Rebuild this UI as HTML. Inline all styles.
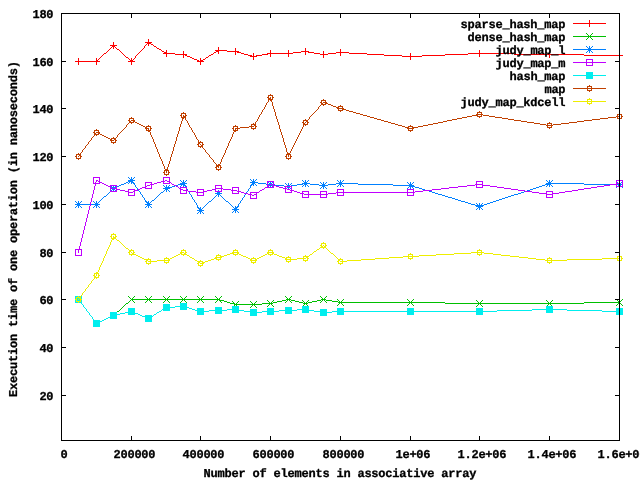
<!DOCTYPE html>
<html lang="en"><head><meta charset="utf-8"><title>Execution time of one operation</title>
<style>
html,body{margin:0;padding:0;background:#fff;}
body{width:640px;height:480px;overflow:hidden;}
svg{display:block;}
.t{font-family:"Liberation Mono","DejaVu Sans Mono",monospace;font-weight:bold;font-size:12px;fill:#000;stroke:#000;stroke-width:.3px;stroke-linejoin:round;text-rendering:geometricPrecision;}
</style></head><body>
<svg width="640" height="480" viewBox="0 0 640 480" shape-rendering="crispEdges">
<rect width="640" height="480" fill="#fff"/>
<g><text class="t" x="565.5" y="28" text-anchor="end" textLength="105" lengthAdjust="spacing">sparse_hash_map</text><path fill="#ff0000" d="M589 20h1v3h-1zM573 23h33v1h-33zM589 24h1v3h-1zM148 39h1v3h-1zM113 42h1v3h-1zM145 42h7v1h-7zM147 43h4v1h-4zM146 44h1v1h-1zM148 44h1v2h-1zM151 44h2v1h-2zM110 45h7v1h-7zM145 45h1v1h-1zM153 45h1v1h-1zM112 46h3v1h-3zM144 46h1v2h-1zM154 46h2v1h-2zM111 47h1v1h-1zM113 47h1v2h-1zM115 47h1v1h-1zM156 47h1v1h-1zM218 47h1v3h-1zM110 48h1v1h-1zM116 48h1v1h-1zM143 48h1v1h-1zM157 48h2v1h-2zM235 48h1v3h-1zM305 48h1v3h-1zM109 49h1v1h-1zM117 49h2v1h-2zM142 49h1v1h-1zM159 49h2v1h-2zM340 49h1v3h-1zM108 50h1v1h-1zM119 50h1v1h-1zM141 50h1v1h-1zM161 50h1v1h-1zM166 50h1v2h-1zM215 50h12v1h-12zM270 50h1v3h-1zM288 50h1v3h-1zM479 50h1v3h-1zM107 51h1v1h-1zM120 51h1v1h-1zM140 51h1v1h-1zM162 51h2v1h-2zM183 51h1v3h-1zM216 51h3v1h-3zM227 51h12v1h-12zM301 51h8v1h-8zM323 51h1v3h-1zM549 51h1v3h-1zM106 52h1v1h-1zM121 52h1v1h-1zM139 52h1v1h-1zM164 52h3v1h-3zM214 52h2v1h-2zM218 52h1v2h-1zM235 52h1v3h-1zM237 52h4v1h-4zM293 52h8v1h-8zM305 52h1v3h-1zM308 52h6v1h-6zM336 52h13v1h-13zM619 52h1v3h-1zM104 53h2v1h-2zM122 53h1v1h-1zM138 53h1v1h-1zM163 53h12v1h-12zM213 53h1v1h-1zM241 53h3v1h-3zM253 53h1v3h-1zM267 53h26v1h-26zM314 53h6v1h-6zM328 53h8v1h-8zM340 53h1v3h-1zM349 53h18v1h-18zM410 53h1v3h-1zM468 53h46v1h-46zM103 54h1v1h-1zM123 54h1v1h-1zM137 54h1v1h-1zM166 54h1v3h-1zM175 54h12v1h-12zM211 54h2v1h-2zM244 54h4v1h-4zM262 54h6v1h-6zM270 54h1v3h-1zM288 54h1v3h-1zM320 54h8v1h-8zM367 54h17v1h-17zM445 54h23v1h-23zM479 54h1v3h-1zM514 54h70v1h-70zM102 55h1v1h-1zM124 55h1v1h-1zM136 55h1v1h-1zM183 55h1v3h-1zM185 55h2v1h-2zM209 55h2v1h-2zM248 55h4v1h-4zM256 55h6v1h-6zM323 55h1v3h-1zM384 55h18v1h-18zM422 55h23v1h-23zM549 55h1v3h-1zM584 55h39v1h-39zM101 56h1v1h-1zM125 56h1v1h-1zM135 56h1v2h-1zM187 56h3v1h-3zM208 56h1v1h-1zM250 56h7v1h-7zM402 56h20v1h-20zM619 56h1v3h-1zM100 57h1v1h-1zM126 57h2v1h-2zM190 57h2v1h-2zM206 57h2v1h-2zM253 57h1v3h-1zM410 57h1v3h-1zM78 58h1v3h-1zM96 58h1v2h-1zM99 58h1v1h-1zM128 58h1v1h-1zM131 58h1v2h-1zM134 58h1v1h-1zM192 58h2v1h-2zM200 58h1v2h-1zM205 58h1v1h-1zM98 59h1v1h-1zM129 59h1v1h-1zM133 59h1v1h-1zM194 59h3v1h-3zM203 59h2v1h-2zM96 60h2v1h-2zM130 60h3v1h-3zM197 60h2v1h-2zM200 60h3v1h-3zM75 61h25v1h-25zM128 61h7v1h-7zM197 61h7v1h-7zM78 62h1v3h-1zM96 62h1v3h-1zM131 62h1v3h-1zM200 62h1v3h-1z"/></g>
<g><text class="t" x="565.5" y="41" text-anchor="end" textLength="98" lengthAdjust="spacing">dense_hash_map</text><path fill="#00c000" d="M586 33h1v1h-1zM592 33h1v1h-1zM587 34h1v1h-1zM591 34h1v1h-1zM588 35h1v1h-1zM590 35h1v1h-1zM573 36h33v1h-33zM588 37h1v1h-1zM590 37h1v1h-1zM587 38h1v1h-1zM591 38h1v1h-1zM586 39h1v1h-1zM592 39h1v1h-1zM75 296h1v1h-1zM81 296h1v1h-1zM128 296h1v1h-1zM134 296h1v1h-1zM145 296h1v1h-1zM151 296h1v1h-1zM163 296h1v1h-1zM169 296h1v1h-1zM180 296h1v1h-1zM186 296h1v1h-1zM197 296h1v1h-1zM203 296h1v1h-1zM215 296h1v1h-1zM221 296h1v1h-1zM285 296h1v1h-1zM291 296h1v1h-1zM320 296h1v1h-1zM326 296h1v1h-1zM76 297h1v1h-1zM80 297h1v1h-1zM129 297h1v1h-1zM133 297h1v1h-1zM146 297h1v1h-1zM150 297h1v1h-1zM164 297h1v1h-1zM168 297h1v1h-1zM181 297h1v1h-1zM185 297h1v1h-1zM198 297h1v1h-1zM202 297h1v1h-1zM216 297h1v1h-1zM220 297h1v1h-1zM286 297h1v1h-1zM290 297h1v1h-1zM321 297h1v1h-1zM325 297h1v1h-1zM77 298h1v1h-1zM79 298h1v1h-1zM130 298h1v1h-1zM132 298h1v1h-1zM147 298h1v1h-1zM149 298h1v1h-1zM165 298h1v1h-1zM167 298h1v1h-1zM182 298h1v1h-1zM184 298h1v1h-1zM199 298h1v1h-1zM201 298h1v1h-1zM217 298h1v1h-1zM219 298h1v1h-1zM287 298h1v1h-1zM289 298h1v1h-1zM322 298h1v1h-1zM324 298h1v1h-1zM78 299h1v1h-1zM131 299h89v1h-89zM286 299h5v1h-5zM321 299h5v1h-5zM337 299h1v1h-1zM343 299h1v1h-1zM407 299h1v1h-1zM413 299h1v1h-1zM616 299h1v1h-1zM622 299h1v1h-1zM77 300h1v1h-1zM79 300h1v1h-1zM130 300h1v1h-1zM132 300h1v1h-1zM147 300h1v1h-1zM149 300h1v1h-1zM165 300h1v1h-1zM167 300h1v1h-1zM182 300h1v1h-1zM184 300h1v1h-1zM199 300h1v1h-1zM201 300h1v1h-1zM217 300h1v1h-1zM219 300h5v1h-5zM267 300h1v1h-1zM273 300h1v1h-1zM282 300h4v1h-4zM287 300h1v1h-1zM289 300h1v1h-1zM291 300h4v1h-4zM302 300h1v1h-1zM308 300h1v1h-1zM317 300h4v1h-4zM322 300h1v1h-1zM324 300h1v1h-1zM326 300h6v1h-6zM338 300h1v1h-1zM342 300h1v1h-1zM408 300h1v1h-1zM412 300h1v1h-1zM476 300h1v1h-1zM482 300h1v1h-1zM546 300h1v1h-1zM552 300h1v1h-1zM617 300h1v1h-1zM621 300h1v1h-1zM76 301h1v1h-1zM80 301h1v1h-1zM129 301h1v1h-1zM133 301h1v1h-1zM146 301h1v1h-1zM150 301h1v1h-1zM164 301h1v1h-1zM168 301h1v1h-1zM181 301h1v1h-1zM185 301h1v1h-1zM198 301h1v1h-1zM202 301h1v1h-1zM216 301h1v1h-1zM220 301h1v1h-1zM224 301h3v1h-3zM232 301h1v1h-1zM238 301h1v1h-1zM250 301h1v1h-1zM256 301h1v1h-1zM268 301h1v1h-1zM272 301h1v1h-1zM277 301h5v1h-5zM286 301h1v1h-1zM290 301h1v1h-1zM295 301h4v1h-4zM303 301h1v1h-1zM307 301h1v1h-1zM312 301h5v1h-5zM321 301h1v1h-1zM325 301h1v1h-1zM332 301h6v1h-6zM339 301h1v1h-1zM341 301h1v1h-1zM409 301h1v1h-1zM411 301h1v1h-1zM477 301h1v1h-1zM481 301h1v1h-1zM547 301h1v1h-1zM551 301h1v1h-1zM618 301h1v1h-1zM620 301h1v1h-1zM75 302h1v1h-1zM80 302h2v1h-2zM128 302h1v1h-1zM134 302h1v1h-1zM145 302h1v1h-1zM151 302h1v1h-1zM163 302h1v1h-1zM169 302h1v1h-1zM180 302h1v1h-1zM186 302h1v1h-1zM197 302h1v1h-1zM203 302h1v1h-1zM215 302h1v1h-1zM221 302h1v1h-1zM227 302h3v1h-3zM233 302h1v1h-1zM237 302h1v1h-1zM251 302h1v1h-1zM255 302h1v1h-1zM269 302h1v1h-1zM271 302h1v1h-1zM273 302h4v1h-4zM285 302h1v1h-1zM291 302h1v1h-1zM299 302h4v1h-4zM304 302h1v1h-1zM306 302h1v1h-1zM308 302h4v1h-4zM320 302h1v1h-1zM326 302h1v1h-1zM338 302h107v1h-107zM478 302h1v1h-1zM480 302h1v1h-1zM548 302h1v1h-1zM550 302h1v1h-1zM584 302h36v1h-36zM81 303h1v1h-1zM126 303h2v1h-2zM230 303h5v1h-5zM236 303h1v1h-1zM252 303h1v1h-1zM254 303h1v1h-1zM262 303h11v1h-11zM303 303h5v1h-5zM339 303h1v1h-1zM341 303h1v1h-1zM409 303h1v1h-1zM411 303h1v1h-1zM445 303h139v1h-139zM618 303h1v1h-1zM620 303h1v1h-1zM82 304h1v1h-1zM125 304h1v1h-1zM234 304h28v1h-28zM269 304h1v1h-1zM271 304h1v1h-1zM304 304h1v1h-1zM306 304h1v1h-1zM338 304h1v1h-1zM342 304h1v1h-1zM408 304h1v1h-1zM412 304h1v1h-1zM478 304h1v1h-1zM480 304h1v1h-1zM548 304h1v1h-1zM550 304h1v1h-1zM617 304h1v1h-1zM621 304h1v1h-1zM83 305h1v2h-1zM124 305h1v1h-1zM234 305h1v1h-1zM236 305h1v1h-1zM252 305h1v1h-1zM254 305h1v1h-1zM268 305h1v1h-1zM272 305h1v1h-1zM303 305h1v1h-1zM307 305h1v1h-1zM337 305h1v1h-1zM343 305h1v1h-1zM407 305h1v1h-1zM413 305h1v1h-1zM477 305h1v1h-1zM481 305h1v1h-1zM547 305h1v1h-1zM551 305h1v1h-1zM616 305h1v1h-1zM622 305h1v1h-1zM123 306h1v1h-1zM233 306h1v1h-1zM237 306h1v1h-1zM251 306h1v1h-1zM255 306h1v1h-1zM267 306h1v1h-1zM273 306h1v1h-1zM302 306h1v1h-1zM308 306h1v1h-1zM476 306h1v1h-1zM482 306h1v1h-1zM546 306h1v1h-1zM552 306h1v1h-1zM84 307h1v1h-1zM122 307h1v1h-1zM232 307h1v1h-1zM238 307h1v1h-1zM250 307h1v1h-1zM256 307h1v1h-1zM85 308h1v1h-1zM121 308h1v1h-1zM86 309h1v2h-1zM120 309h1v1h-1zM119 310h1v1h-1zM87 311h1v1h-1zM117 311h2v1h-2zM88 312h1v1h-1zM110 312h1v1h-1zM116 312h1v1h-1zM89 313h1v2h-1zM111 313h1v1h-1zM115 313h1v1h-1zM112 314h1v1h-1zM114 314h1v1h-1zM90 315h1v1h-1zM112 315h2v1h-2zM91 316h1v1h-1zM110 316h3v1h-3zM114 316h1v1h-1zM92 317h1v2h-1zM108 317h2v1h-2zM111 317h1v1h-1zM115 317h1v1h-1zM106 318h2v1h-2zM110 318h1v1h-1zM116 318h1v1h-1zM93 319h1v1h-1zM104 319h2v1h-2zM93 320h2v1h-2zM99 320h1v1h-1zM102 320h2v1h-2zM94 321h2v1h-2zM98 321h1v1h-1zM100 321h2v1h-2zM95 322h1v1h-1zM97 322h3v1h-3zM96 323h2v1h-2zM95 324h1v1h-1zM97 324h1v1h-1zM94 325h1v1h-1zM98 325h1v1h-1zM93 326h1v1h-1zM99 326h1v1h-1z"/></g>
<g><text class="t" x="565.5" y="54" text-anchor="end" textLength="70" lengthAdjust="spacing">judy_map_l</text><path fill="#0080ff" d="M586 46h1v1h-1zM589 46h1v2h-1zM592 46h1v1h-1zM587 47h1v1h-1zM591 47h1v1h-1zM588 48h3v1h-3zM573 49h33v1h-33zM588 50h3v1h-3zM587 51h1v1h-1zM589 51h1v2h-1zM591 51h1v1h-1zM586 52h1v1h-1zM592 52h1v1h-1zM128 177h1v1h-1zM131 177h1v2h-1zM134 177h1v1h-1zM129 178h1v1h-1zM133 178h1v1h-1zM130 179h3v1h-3zM250 179h1v1h-1zM253 179h1v2h-1zM256 179h1v1h-1zM128 180h7v1h-7zM180 180h1v1h-1zM183 180h1v2h-1zM186 180h1v1h-1zM251 180h1v1h-1zM255 180h1v1h-1zM302 180h1v1h-1zM305 180h1v2h-1zM308 180h1v1h-1zM337 180h1v1h-1zM340 180h1v2h-1zM343 180h1v1h-1zM546 180h1v1h-1zM549 180h1v2h-1zM552 180h1v1h-1zM128 181h5v1h-5zM181 181h1v1h-1zM185 181h1v1h-1zM252 181h3v1h-3zM267 181h1v1h-1zM270 181h1v2h-1zM273 181h1v1h-1zM303 181h1v1h-1zM307 181h1v1h-1zM338 181h1v1h-1zM342 181h1v1h-1zM547 181h1v1h-1zM551 181h1v1h-1zM616 181h1v1h-1zM619 181h1v2h-1zM622 181h1v1h-1zM126 182h2v1h-2zM129 182h1v1h-1zM131 182h3v1h-3zM182 182h3v1h-3zM250 182h8v1h-8zM268 182h1v1h-1zM272 182h1v1h-1zM304 182h3v1h-3zM320 182h1v1h-1zM323 182h1v2h-1zM326 182h1v1h-1zM339 182h3v1h-3zM407 182h1v1h-1zM410 182h1v2h-1zM413 182h1v1h-1zM548 182h3v1h-3zM617 182h1v1h-1zM621 182h1v1h-1zM124 183h2v1h-2zM128 183h1v1h-1zM131 183h1v1h-1zM133 183h2v1h-2zM180 183h7v1h-7zM252 183h3v1h-3zM258 183h8v1h-8zM269 183h3v1h-3zM285 183h1v1h-1zM288 183h1v2h-1zM291 183h1v1h-1zM302 183h8v1h-8zM321 183h1v1h-1zM325 183h1v1h-1zM336 183h22v1h-22zM408 183h1v1h-1zM412 183h1v1h-1zM546 183h38v1h-38zM618 183h3v1h-3zM121 184h3v1h-3zM134 184h1v1h-1zM178 184h7v1h-7zM251 184h3v1h-3zM255 184h1v1h-1zM266 184h9v1h-9zM286 184h1v1h-1zM290 184h1v1h-1zM297 184h6v1h-6zM304 184h3v1h-3zM310 184h9v1h-9zM322 184h3v1h-3zM328 184h8v1h-8zM339 184h3v1h-3zM358 184h35v1h-35zM409 184h3v1h-3zM545 184h6v1h-6zM584 184h39v1h-39zM110 185h1v1h-1zM113 185h1v2h-1zM116 185h1v1h-1zM119 185h2v1h-2zM135 185h1v2h-1zM163 185h1v1h-1zM166 185h1v2h-1zM169 185h1v1h-1zM175 185h3v1h-3zM181 185h1v1h-1zM183 185h3v1h-3zM250 185h2v1h-2zM253 185h1v1h-1zM256 185h1v1h-1zM269 185h3v1h-3zM275 185h9v1h-9zM287 185h3v1h-3zM291 185h6v1h-6zM303 185h1v1h-1zM305 185h1v2h-1zM307 185h1v1h-1zM319 185h9v1h-9zM338 185h1v1h-1zM340 185h1v2h-1zM342 185h1v1h-1zM393 185h21v1h-21zM542 185h3v1h-3zM547 185h1v1h-1zM549 185h1v2h-1zM551 185h1v1h-1zM618 185h3v1h-3zM111 186h1v1h-1zM115 186h1v1h-1zM117 186h2v1h-2zM164 186h1v1h-1zM168 186h1v1h-1zM172 186h3v1h-3zM180 186h1v1h-1zM183 186h1v1h-1zM185 186h2v1h-2zM250 186h1v2h-1zM268 186h1v1h-1zM270 186h1v2h-1zM272 186h1v1h-1zM284 186h8v1h-8zM302 186h1v1h-1zM308 186h1v1h-1zM322 186h3v1h-3zM337 186h1v1h-1zM343 186h1v1h-1zM409 186h6v1h-6zM539 186h3v1h-3zM546 186h1v1h-1zM552 186h1v1h-1zM617 186h1v1h-1zM619 186h1v2h-1zM621 186h1v1h-1zM112 187h5v1h-5zM136 187h1v1h-1zM165 187h7v1h-7zM186 187h1v2h-1zM267 187h1v1h-1zM273 187h1v1h-1zM287 187h3v1h-3zM321 187h1v1h-1zM323 187h1v2h-1zM325 187h1v1h-1zM408 187h1v1h-1zM410 187h1v2h-1zM412 187h1v1h-1zM415 187h4v1h-4zM536 187h3v1h-3zM616 187h1v1h-1zM622 187h1v1h-1zM110 188h7v1h-7zM137 188h1v2h-1zM163 188h7v1h-7zM249 188h1v1h-1zM286 188h1v1h-1zM288 188h1v2h-1zM290 188h1v1h-1zM320 188h1v1h-1zM326 188h1v1h-1zM407 188h1v1h-1zM413 188h1v1h-1zM419 188h3v1h-3zM533 188h3v1h-3zM112 189h3v1h-3zM165 189h3v1h-3zM187 189h1v2h-1zM248 189h1v2h-1zM285 189h1v1h-1zM291 189h1v1h-1zM422 189h3v1h-3zM530 189h3v1h-3zM111 190h1v1h-1zM113 190h1v2h-1zM115 190h1v1h-1zM138 190h1v1h-1zM164 190h1v1h-1zM166 190h1v2h-1zM168 190h1v1h-1zM215 190h1v1h-1zM218 190h1v2h-1zM221 190h1v1h-1zM425 190h4v1h-4zM527 190h3v1h-3zM110 191h1v1h-1zM116 191h1v1h-1zM139 191h1v1h-1zM163 191h1v1h-1zM169 191h1v1h-1zM188 191h1v1h-1zM216 191h1v1h-1zM220 191h1v1h-1zM247 191h1v1h-1zM429 191h3v1h-3zM524 191h3v1h-3zM109 192h1v1h-1zM140 192h1v2h-1zM161 192h2v1h-2zM189 192h1v2h-1zM217 192h3v1h-3zM246 192h1v2h-1zM432 192h3v1h-3zM521 192h3v1h-3zM108 193h1v1h-1zM160 193h1v1h-1zM215 193h7v1h-7zM435 193h3v1h-3zM518 193h3v1h-3zM107 194h1v1h-1zM141 194h1v1h-1zM159 194h1v1h-1zM190 194h1v1h-1zM217 194h3v1h-3zM245 194h1v1h-1zM438 194h4v1h-4zM514 194h4v1h-4zM106 195h1v1h-1zM142 195h1v2h-1zM158 195h1v1h-1zM191 195h1v2h-1zM216 195h1v1h-1zM218 195h1v2h-1zM220 195h1v1h-1zM244 195h1v2h-1zM442 195h3v1h-3zM511 195h3v1h-3zM104 196h2v1h-2zM157 196h1v1h-1zM215 196h1v1h-1zM221 196h1v1h-1zM445 196h3v1h-3zM508 196h3v1h-3zM103 197h1v1h-1zM143 197h1v1h-1zM156 197h1v1h-1zM192 197h1v2h-1zM214 197h1v1h-1zM222 197h1v1h-1zM243 197h1v1h-1zM448 197h4v1h-4zM505 197h3v1h-3zM102 198h1v1h-1zM144 198h1v2h-1zM155 198h1v1h-1zM213 198h1v1h-1zM223 198h1v1h-1zM242 198h1v2h-1zM452 198h3v1h-3zM502 198h3v1h-3zM101 199h1v1h-1zM154 199h1v1h-1zM193 199h1v1h-1zM212 199h1v1h-1zM224 199h1v1h-1zM455 199h3v1h-3zM499 199h3v1h-3zM100 200h1v1h-1zM145 200h1v1h-1zM152 200h2v1h-2zM194 200h1v2h-1zM211 200h1v1h-1zM225 200h1v1h-1zM241 200h1v1h-1zM458 200h3v1h-3zM496 200h3v1h-3zM75 201h1v1h-1zM78 201h1v2h-1zM81 201h1v1h-1zM93 201h1v1h-1zM96 201h1v2h-1zM99 201h1v1h-1zM145 201h2v1h-2zM148 201h1v1h-1zM151 201h1v1h-1zM209 201h2v1h-2zM226 201h2v1h-2zM240 201h1v2h-1zM461 201h4v1h-4zM493 201h3v1h-3zM76 202h1v1h-1zM80 202h1v1h-1zM94 202h1v1h-1zM98 202h1v1h-1zM146 202h3v1h-3zM150 202h1v1h-1zM195 202h1v1h-1zM208 202h1v1h-1zM228 202h1v1h-1zM465 202h3v1h-3zM490 202h3v1h-3zM77 203h3v1h-3zM95 203h3v1h-3zM147 203h3v1h-3zM196 203h1v2h-1zM207 203h1v1h-1zM229 203h1v1h-1zM239 203h1v1h-1zM468 203h3v1h-3zM476 203h1v1h-1zM479 203h1v2h-1zM482 203h1v1h-1zM487 203h3v1h-3zM75 204h25v1h-25zM145 204h7v1h-7zM206 204h1v1h-1zM230 204h1v1h-1zM238 204h1v2h-1zM471 204h4v1h-4zM477 204h1v1h-1zM481 204h1v1h-1zM484 204h3v1h-3zM77 205h3v1h-3zM95 205h3v1h-3zM147 205h3v1h-3zM197 205h1v2h-1zM205 205h1v1h-1zM231 205h1v1h-1zM475 205h9v1h-9zM76 206h1v1h-1zM78 206h1v2h-1zM80 206h1v1h-1zM94 206h1v1h-1zM96 206h1v2h-1zM98 206h1v1h-1zM146 206h1v1h-1zM148 206h1v2h-1zM150 206h1v1h-1zM204 206h1v1h-1zM232 206h1v1h-1zM235 206h1v1h-1zM237 206h2v1h-2zM476 206h7v1h-7zM75 207h1v1h-1zM81 207h1v1h-1zM93 207h1v1h-1zM99 207h1v1h-1zM145 207h1v1h-1zM151 207h1v1h-1zM197 207h2v1h-2zM200 207h1v1h-1zM203 207h1v1h-1zM233 207h1v1h-1zM235 207h3v1h-3zM478 207h3v1h-3zM198 208h3v1h-3zM202 208h1v1h-1zM234 208h3v1h-3zM477 208h1v1h-1zM479 208h1v2h-1zM481 208h1v1h-1zM199 209h3v1h-3zM232 209h7v1h-7zM476 209h1v1h-1zM482 209h1v1h-1zM197 210h7v1h-7zM234 210h3v1h-3zM199 211h3v1h-3zM233 211h1v1h-1zM235 211h1v2h-1zM237 211h1v1h-1zM198 212h1v1h-1zM200 212h1v2h-1zM202 212h1v1h-1zM232 212h1v1h-1zM238 212h1v1h-1zM197 213h1v1h-1zM203 213h1v1h-1z"/></g>
<g><text class="t" x="565.5" y="67" text-anchor="end" textLength="70" lengthAdjust="spacing">judy_map_m</text><path fill="#c000ff" d="M586 59h7v1h-7zM586 60h1v2h-1zM592 60h1v2h-1zM573 62h33v1h-33zM586 63h1v2h-1zM592 63h1v2h-1zM586 65h7v1h-7zM93 177h7v1h-7zM163 177h7v1h-7zM93 178h1v5h-1zM99 178h1v3h-1zM163 178h1v3h-1zM169 178h1v3h-1zM96 180h2v1h-2zM165 180h2v1h-2zM616 180h7v1h-7zM96 181h1v1h-1zM98 181h2v1h-2zM161 181h4v1h-4zM167 181h3v1h-3zM267 181h7v1h-7zM476 181h7v1h-7zM616 181h1v2h-1zM622 181h1v5h-1zM95 182h1v1h-1zM99 182h3v1h-3zM145 182h7v1h-7zM157 182h4v1h-4zM163 182h1v1h-1zM169 182h2v1h-2zM267 182h1v3h-1zM273 182h1v3h-1zM476 182h1v2h-1zM482 182h1v2h-1zM93 183h7v1h-7zM102 183h2v1h-2zM145 183h1v3h-1zM151 183h1v1h-1zM154 183h3v1h-3zM163 183h7v1h-7zM171 183h1v1h-1zM616 183h4v1h-4zM95 184h1v2h-1zM104 184h2v1h-2zM150 184h4v1h-4zM172 184h2v1h-2zM270 184h2v1h-2zM475 184h8v1h-8zM610 184h7v1h-7zM106 185h2v1h-2zM110 185h7v1h-7zM147 185h3v1h-3zM151 185h1v3h-1zM174 185h2v1h-2zM215 185h7v1h-7zM267 185h3v1h-3zM272 185h4v1h-4zM467 185h8v1h-8zM476 185h1v2h-1zM482 185h8v1h-8zM604 185h6v1h-6zM616 185h1v1h-1zM94 186h1v4h-1zM108 186h3v1h-3zM116 186h1v2h-1zM145 186h2v1h-2zM176 186h2v1h-2zM215 186h1v2h-1zM221 186h1v2h-1zM267 186h1v1h-1zM273 186h1v1h-1zM276 186h3v1h-3zM285 186h7v1h-7zM458 186h9v1h-9zM482 186h1v1h-1zM490 186h7v1h-7zM597 186h7v1h-7zM616 186h7v1h-7zM110 187h2v1h-2zM142 187h4v1h-4zM178 187h1v1h-1zM180 187h7v1h-7zM232 187h7v1h-7zM265 187h9v1h-9zM279 187h4v1h-4zM285 187h1v1h-1zM291 187h1v3h-1zM449 187h9v1h-9zM476 187h7v1h-7zM497 187h7v1h-7zM591 187h6v1h-6zM110 188h1v3h-1zM112 188h5v1h-5zM140 188h2v1h-2zM145 188h7v1h-7zM179 188h2v1h-2zM186 188h1v2h-1zM215 188h8v1h-8zM232 188h1v2h-1zM238 188h1v3h-1zM264 188h1v1h-1zM283 188h4v1h-4zM441 188h8v1h-8zM504 188h7v1h-7zM584 188h7v1h-7zM116 189h4v1h-4zM128 189h7v1h-7zM138 189h2v1h-2zM180 189h3v1h-3zM197 189h7v1h-7zM212 189h4v1h-4zM221 189h1v2h-1zM223 189h8v1h-8zM262 189h2v1h-2zM285 189h1v3h-1zM287 189h3v1h-3zM337 189h7v1h-7zM407 189h7v1h-7zM432 189h9v1h-9zM511 189h7v1h-7zM578 189h6v1h-6zM93 190h1v4h-1zM116 190h1v1h-1zM120 190h5v1h-5zM128 190h1v1h-1zM134 190h4v1h-4zM180 190h1v3h-1zM183 190h5v1h-5zM197 190h1v2h-1zM203 190h1v1h-1zM207 190h5v1h-5zM215 190h1v1h-1zM231 190h6v1h-6zM260 190h2v1h-2zM290 190h4v1h-4zM337 190h1v2h-1zM343 190h1v2h-1zM407 190h1v2h-1zM413 190h1v2h-1zM423 190h9v1h-9zM518 190h7v1h-7zM572 190h6v1h-6zM110 191h7v1h-7zM125 191h4v1h-4zM133 191h2v1h-2zM186 191h1v2h-1zM188 191h8v1h-8zM203 191h4v1h-4zM215 191h7v1h-7zM232 191h1v2h-1zM237 191h4v1h-4zM259 191h1v1h-1zM291 191h1v1h-1zM294 191h3v1h-3zM302 191h7v1h-7zM320 191h7v1h-7zM415 191h8v1h-8zM525 191h7v1h-7zM546 191h7v1h-7zM565 191h7v1h-7zM128 192h5v1h-5zM134 192h1v3h-1zM196 192h8v1h-8zM238 192h1v1h-1zM241 192h3v1h-3zM250 192h9v1h-9zM285 192h7v1h-7zM297 192h3v1h-3zM302 192h1v1h-1zM308 192h1v2h-1zM320 192h1v2h-1zM326 192h1v2h-1zM336 192h79v1h-79zM532 192h7v1h-7zM546 192h1v1h-1zM552 192h1v1h-1zM559 192h6v1h-6zM128 193h1v2h-1zM180 193h7v1h-7zM197 193h1v2h-1zM203 193h1v2h-1zM232 193h7v1h-7zM244 193h4v1h-4zM250 193h1v1h-1zM256 193h1v1h-1zM300 193h4v1h-4zM328 193h8v1h-8zM337 193h1v2h-1zM343 193h1v2h-1zM407 193h1v2h-1zM413 193h1v2h-1zM539 193h8v1h-8zM552 193h7v1h-7zM92 194h1v4h-1zM248 194h4v1h-4zM254 194h3v1h-3zM302 194h1v3h-1zM304 194h24v1h-24zM546 194h7v1h-7zM128 195h7v1h-7zM197 195h7v1h-7zM250 195h1v3h-1zM252 195h2v1h-2zM256 195h1v3h-1zM308 195h1v2h-1zM320 195h1v2h-1zM326 195h1v2h-1zM337 195h7v1h-7zM407 195h7v1h-7zM546 195h1v2h-1zM552 195h1v2h-1zM302 197h7v1h-7zM320 197h7v1h-7zM546 197h7v1h-7zM91 198h1v4h-1zM250 198h7v1h-7zM90 202h1v4h-1zM89 206h1v4h-1zM88 210h1v4h-1zM87 214h1v4h-1zM86 218h1v4h-1zM85 222h1v4h-1zM84 226h1v4h-1zM83 230h1v4h-1zM82 234h1v4h-1zM81 238h1v4h-1zM80 242h1v4h-1zM79 246h1v3h-1zM75 249h7v1h-7zM75 250h1v5h-1zM78 250h1v3h-1zM81 250h1v5h-1zM75 255h7v1h-7z"/></g>
<g><text class="t" x="565.5" y="80" text-anchor="end" textLength="56" lengthAdjust="spacing">hash_map</text><path fill="#00eeee" d="M586 72h7v1h-7zM586 73h7v1h-7zM586 74h7v1h-7zM573 75h33v1h-33zM586 76h7v1h-7zM586 77h7v1h-7zM586 78h7v1h-7zM75 296h7v1h-7zM75 297h7v1h-7zM75 298h7v1h-7zM75 299h7v1h-7zM75 300h7v1h-7zM75 301h7v1h-7zM75 302h7v1h-7zM81 303h1v1h-1zM180 303h7v1h-7zM82 304h1v1h-1zM163 304h7v1h-7zM180 304h7v1h-7zM83 305h1v2h-1zM163 305h7v1h-7zM180 305h7v1h-7zM163 306h7v1h-7zM175 306h12v1h-12zM232 306h7v1h-7zM302 306h7v1h-7zM546 306h7v1h-7zM84 307h1v1h-1zM163 307h12v1h-12zM180 307h9v1h-9zM215 307h7v1h-7zM232 307h7v1h-7zM285 307h7v1h-7zM302 307h7v1h-7zM546 307h7v1h-7zM85 308h1v1h-1zM128 308h7v1h-7zM163 308h7v1h-7zM180 308h7v1h-7zM189 308h3v1h-3zM197 308h7v1h-7zM215 308h7v1h-7zM232 308h7v1h-7zM267 308h7v1h-7zM285 308h7v1h-7zM302 308h7v1h-7zM337 308h7v1h-7zM407 308h7v1h-7zM476 308h7v1h-7zM546 308h7v1h-7zM616 308h7v1h-7zM86 309h1v2h-1zM128 309h7v1h-7zM162 309h8v1h-8zM180 309h7v1h-7zM192 309h3v1h-3zM197 309h7v1h-7zM215 309h7v1h-7zM227 309h12v1h-12zM250 309h7v1h-7zM267 309h7v1h-7zM285 309h7v1h-7zM297 309h12v1h-12zM320 309h7v1h-7zM337 309h7v1h-7zM407 309h7v1h-7zM476 309h7v1h-7zM532 309h35v1h-35zM616 309h7v1h-7zM128 310h7v1h-7zM161 310h1v1h-1zM163 310h7v1h-7zM195 310h9v1h-9zM209 310h18v1h-18zM232 310h12v1h-12zM250 310h7v1h-7zM267 310h7v1h-7zM279 310h18v1h-18zM302 310h12v1h-12zM320 310h7v1h-7zM337 310h7v1h-7zM407 310h7v1h-7zM476 310h7v1h-7zM497 310h35v1h-35zM546 310h7v1h-7zM567 310h35v1h-35zM616 310h7v1h-7zM87 311h1v1h-1zM128 311h7v1h-7zM159 311h2v1h-2zM197 311h12v1h-12zM215 311h7v1h-7zM232 311h7v1h-7zM244 311h13v1h-13zM262 311h17v1h-17zM285 311h7v1h-7zM302 311h7v1h-7zM314 311h13v1h-13zM332 311h165v1h-165zM546 311h7v1h-7zM602 311h21v1h-21zM88 312h1v1h-1zM110 312h7v1h-7zM125 312h10v1h-10zM157 312h2v1h-2zM197 312h7v1h-7zM215 312h7v1h-7zM232 312h7v1h-7zM250 312h12v1h-12zM267 312h7v1h-7zM285 312h7v1h-7zM302 312h7v1h-7zM320 312h12v1h-12zM337 312h7v1h-7zM407 312h7v1h-7zM476 312h7v1h-7zM546 312h7v1h-7zM616 312h7v1h-7zM89 313h1v2h-1zM110 313h7v1h-7zM120 313h5v1h-5zM128 313h10v1h-10zM156 313h1v1h-1zM197 313h7v1h-7zM215 313h7v1h-7zM250 313h7v1h-7zM267 313h7v1h-7zM285 313h7v1h-7zM320 313h7v1h-7zM337 313h7v1h-7zM407 313h7v1h-7zM476 313h7v1h-7zM616 313h7v1h-7zM110 314h10v1h-10zM128 314h7v1h-7zM138 314h2v1h-2zM154 314h2v1h-2zM197 314h7v1h-7zM250 314h7v1h-7zM267 314h7v1h-7zM320 314h7v1h-7zM337 314h7v1h-7zM407 314h7v1h-7zM476 314h7v1h-7zM616 314h7v1h-7zM90 315h1v1h-1zM110 315h7v1h-7zM140 315h2v1h-2zM145 315h7v1h-7zM153 315h1v1h-1zM250 315h7v1h-7zM320 315h7v1h-7zM91 316h1v1h-1zM110 316h7v1h-7zM142 316h11v1h-11zM92 317h1v2h-1zM108 317h9v1h-9zM145 317h7v1h-7zM106 318h2v1h-2zM110 318h7v1h-7zM145 318h7v1h-7zM93 319h1v1h-1zM104 319h2v1h-2zM145 319h7v1h-7zM93 320h7v1h-7zM102 320h2v1h-2zM145 320h7v1h-7zM93 321h9v1h-9zM145 321h7v1h-7zM93 322h7v1h-7zM93 323h7v1h-7zM93 324h7v1h-7zM93 325h7v1h-7zM93 326h7v1h-7z"/></g>
<g><text class="t" x="565.5" y="93" text-anchor="end" textLength="21" lengthAdjust="spacing">map</text><path fill="#c04000" d="M589 85h1v1h-1zM587 86h5v1h-5zM587 87h1v1h-1zM591 87h1v1h-1zM573 88h33v1h-33zM587 89h1v1h-1zM591 89h1v1h-1zM587 90h5v1h-5zM589 91h1v1h-1zM270 94h1v1h-1zM268 95h5v1h-5zM268 96h1v1h-1zM272 96h1v1h-1zM267 97h2v1h-2zM270 97h1v1h-1zM272 97h2v1h-2zM268 98h3v1h-3zM272 98h1v1h-1zM268 99h5v1h-5zM323 99h1v1h-1zM268 100h1v2h-1zM270 100h2v1h-2zM321 100h5v1h-5zM271 101h1v1h-1zM321 101h1v1h-1zM325 101h1v1h-1zM267 102h1v1h-1zM272 102h1v4h-1zM320 102h2v1h-2zM323 102h4v1h-4zM266 103h1v2h-1zM321 103h2v1h-2zM325 103h3v1h-3zM321 104h5v1h-5zM328 104h3v1h-3zM265 105h1v2h-1zM320 105h1v1h-1zM323 105h1v1h-1zM331 105h2v1h-2zM340 105h1v1h-1zM273 106h1v3h-1zM319 106h1v1h-1zM333 106h3v1h-3zM338 106h5v1h-5zM264 107h1v2h-1zM318 107h1v2h-1zM336 107h3v1h-3zM342 107h1v1h-1zM337 108h7v1h-7zM263 109h1v1h-1zM274 109h1v3h-1zM317 109h1v1h-1zM338 109h1v1h-1zM342 109h4v1h-4zM262 110h1v2h-1zM316 110h1v1h-1zM338 110h5v1h-5zM346 110h3v1h-3zM315 111h1v1h-1zM340 111h1v1h-1zM349 111h4v1h-4zM479 111h1v1h-1zM183 112h1v1h-1zM261 112h1v2h-1zM275 112h1v4h-1zM314 112h1v1h-1zM353 112h3v1h-3zM477 112h5v1h-5zM181 113h5v1h-5zM313 113h1v1h-1zM356 113h4v1h-4zM477 113h1v1h-1zM481 113h1v1h-1zM619 113h1v1h-1zM181 114h1v1h-1zM185 114h1v1h-1zM260 114h1v1h-1zM312 114h1v1h-1zM360 114h3v1h-3zM476 114h7v1h-7zM617 114h5v1h-5zM180 115h2v1h-2zM183 115h1v1h-1zM185 115h2v1h-2zM259 115h1v2h-1zM311 115h1v1h-1zM363 115h4v1h-4zM472 115h6v1h-6zM481 115h1v1h-1zM483 115h6v1h-6zM617 115h1v1h-1zM621 115h1v1h-1zM181 116h1v1h-1zM183 116h3v1h-3zM276 116h1v3h-1zM310 116h1v1h-1zM367 116h3v1h-3zM467 116h5v1h-5zM477 116h5v1h-5zM489 116h6v1h-6zM616 116h4v1h-4zM621 116h2v1h-2zM131 117h1v1h-1zM181 117h5v1h-5zM258 117h1v2h-1zM309 117h1v2h-1zM370 117h4v1h-4zM462 117h5v1h-5zM479 117h1v1h-1zM495 117h7v1h-7zM608 117h8v1h-8zM617 117h1v1h-1zM621 117h1v1h-1zM129 118h5v1h-5zM182 118h2v1h-2zM185 118h1v2h-1zM374 118h3v1h-3zM457 118h5v1h-5zM502 118h6v1h-6zM600 118h8v1h-8zM617 118h5v1h-5zM129 119h1v1h-1zM133 119h1v1h-1zM182 119h1v2h-1zM257 119h1v2h-1zM277 119h1v3h-1zM305 119h1v1h-1zM308 119h1v1h-1zM377 119h4v1h-4zM452 119h5v1h-5zM508 119h6v1h-6zM592 119h8v1h-8zM619 119h1v1h-1zM128 120h2v1h-2zM131 120h4v1h-4zM186 120h1v1h-1zM303 120h5v1h-5zM381 120h3v1h-3zM447 120h5v1h-5zM514 120h7v1h-7zM584 120h8v1h-8zM129 121h2v1h-2zM133 121h2v1h-2zM181 121h1v3h-1zM187 121h1v2h-1zM256 121h1v1h-1zM303 121h1v1h-1zM306 121h2v1h-2zM384 121h4v1h-4zM443 121h4v1h-4zM521 121h6v1h-6zM577 121h7v1h-7zM129 122h5v1h-5zM135 122h2v1h-2zM255 122h1v2h-1zM278 122h1v3h-1zM302 122h2v1h-2zM305 122h1v1h-1zM307 122h2v1h-2zM388 122h3v1h-3zM438 122h5v1h-5zM527 122h7v1h-7zM549 122h1v1h-1zM569 122h8v1h-8zM128 123h1v1h-1zM131 123h1v1h-1zM137 123h2v1h-2zM188 123h1v2h-1zM253 123h1v1h-1zM303 123h2v1h-2zM307 123h1v1h-1zM391 123h4v1h-4zM433 123h5v1h-5zM534 123h6v1h-6zM547 123h5v1h-5zM561 123h8v1h-8zM127 124h1v1h-1zM139 124h2v1h-2zM180 124h1v3h-1zM251 124h5v1h-5zM303 124h5v1h-5zM395 124h3v1h-3zM428 124h5v1h-5zM540 124h6v1h-6zM547 124h1v1h-1zM551 124h1v1h-1zM553 124h8v1h-8zM126 125h1v2h-1zM141 125h2v1h-2zM148 125h1v1h-1zM189 125h1v2h-1zM235 125h1v1h-1zM251 125h1v1h-1zM254 125h2v1h-2zM279 125h1v4h-1zM303 125h1v2h-1zM305 125h1v1h-1zM398 125h4v1h-4zM410 125h1v1h-1zM423 125h5v1h-5zM546 125h7v1h-7zM143 126h2v1h-2zM146 126h5v1h-5zM233 126h5v1h-5zM249 126h5v1h-5zM255 126h2v1h-2zM402 126h3v1h-3zM408 126h5v1h-5zM418 126h5v1h-5zM547 126h1v1h-1zM551 126h1v1h-1zM125 127h1v1h-1zM145 127h2v1h-2zM150 127h1v1h-1zM179 127h1v4h-1zM190 127h1v1h-1zM233 127h1v1h-1zM237 127h1v1h-1zM240 127h9v1h-9zM251 127h1v1h-1zM255 127h1v1h-1zM302 127h1v2h-1zM405 127h4v1h-4zM412 127h6v1h-6zM547 127h5v1h-5zM124 128h1v1h-1zM145 128h4v1h-4zM150 128h2v1h-2zM191 128h1v2h-1zM232 128h2v1h-2zM235 128h5v1h-5zM251 128h5v1h-5zM407 128h7v1h-7zM549 128h1v1h-1zM96 129h1v1h-1zM123 129h1v1h-1zM146 129h1v1h-1zM148 129h1v1h-1zM150 129h1v1h-1zM233 129h1v1h-1zM235 129h1v1h-1zM237 129h1v1h-1zM253 129h1v1h-1zM280 129h1v3h-1zM301 129h1v2h-1zM408 129h1v1h-1zM412 129h1v1h-1zM94 130h5v1h-5zM122 130h1v1h-1zM146 130h5v1h-5zM192 130h1v2h-1zM233 130h5v1h-5zM408 130h5v1h-5zM94 131h1v1h-1zM98 131h1v1h-1zM121 131h1v1h-1zM148 131h2v1h-2zM178 131h1v3h-1zM234 131h2v1h-2zM300 131h1v2h-1zM410 131h1v1h-1zM93 132h2v1h-2zM96 132h4v1h-4zM120 132h1v1h-1zM150 132h1v3h-1zM193 132h1v1h-1zM233 132h1v2h-1zM281 132h1v3h-1zM94 133h2v1h-2zM98 133h2v1h-2zM119 133h1v1h-1zM194 133h1v2h-1zM299 133h1v2h-1zM94 134h5v1h-5zM100 134h2v1h-2zM118 134h1v1h-1zM177 134h1v3h-1zM232 134h1v3h-1zM94 135h1v1h-1zM96 135h1v1h-1zM102 135h2v1h-2zM117 135h1v2h-1zM151 135h1v2h-1zM195 135h1v2h-1zM282 135h1v3h-1zM298 135h1v2h-1zM93 136h1v1h-1zM104 136h2v1h-2zM92 137h1v1h-1zM106 137h2v1h-2zM113 137h1v1h-1zM116 137h1v1h-1zM152 137h1v2h-1zM176 137h1v4h-1zM196 137h1v2h-1zM231 137h1v2h-1zM297 137h1v2h-1zM91 138h1v2h-1zM108 138h2v1h-2zM111 138h5v1h-5zM283 138h1v4h-1zM110 139h2v1h-2zM114 139h2v1h-2zM153 139h1v3h-1zM197 139h1v1h-1zM230 139h1v2h-1zM296 139h1v2h-1zM90 140h1v1h-1zM110 140h4v1h-4zM115 140h2v1h-2zM198 140h1v2h-1zM89 141h1v1h-1zM111 141h1v1h-1zM115 141h1v1h-1zM175 141h1v3h-1zM200 141h1v1h-1zM229 141h1v2h-1zM295 141h1v2h-1zM88 142h1v2h-1zM111 142h5v1h-5zM154 142h1v2h-1zM198 142h5v1h-5zM284 142h1v3h-1zM113 143h1v1h-1zM198 143h2v1h-2zM202 143h1v1h-1zM228 143h1v3h-1zM294 143h1v2h-1zM87 144h1v1h-1zM155 144h1v3h-1zM174 144h1v3h-1zM197 144h2v1h-2zM200 144h1v1h-1zM202 144h2v1h-2zM86 145h1v1h-1zM198 145h1v1h-1zM201 145h2v1h-2zM285 145h1v3h-1zM293 145h1v2h-1zM85 146h1v2h-1zM198 146h5v1h-5zM227 146h1v2h-1zM156 147h1v2h-1zM173 147h1v4h-1zM200 147h1v1h-1zM202 147h1v1h-1zM292 147h1v2h-1zM84 148h1v1h-1zM203 148h1v1h-1zM226 148h1v2h-1zM286 148h1v4h-1zM83 149h1v1h-1zM157 149h1v3h-1zM204 149h1v1h-1zM291 149h1v2h-1zM82 150h1v2h-1zM205 150h1v2h-1zM225 150h1v3h-1zM172 151h1v3h-1zM290 151h1v2h-1zM81 152h1v1h-1zM158 152h1v2h-1zM206 152h1v1h-1zM287 152h1v1h-1zM78 153h1v1h-1zM80 153h1v1h-1zM207 153h1v1h-1zM224 153h1v2h-1zM287 153h3v1h-3zM76 154h5v1h-5zM159 154h1v3h-1zM171 154h1v3h-1zM208 154h1v1h-1zM286 154h5v1h-5zM76 155h1v1h-1zM79 155h2v1h-2zM209 155h1v2h-1zM223 155h1v2h-1zM286 155h1v1h-1zM288 155h1v2h-1zM290 155h1v1h-1zM75 156h2v1h-2zM78 156h1v1h-1zM80 156h2v1h-2zM285 156h2v1h-2zM290 156h2v1h-2zM76 157h1v1h-1zM80 157h1v1h-1zM160 157h1v2h-1zM170 157h1v4h-1zM210 157h1v1h-1zM222 157h1v2h-1zM286 157h1v1h-1zM290 157h1v1h-1zM76 158h5v1h-5zM211 158h1v1h-1zM286 158h5v1h-5zM78 159h1v1h-1zM161 159h1v2h-1zM212 159h1v1h-1zM221 159h1v3h-1zM288 159h1v1h-1zM213 160h1v2h-1zM162 161h1v3h-1zM169 161h1v3h-1zM214 162h1v1h-1zM220 162h1v2h-1zM215 163h1v1h-1zM163 164h1v2h-1zM168 164h1v3h-1zM216 164h1v1h-1zM218 164h2v1h-2zM216 165h5v1h-5zM164 166h1v3h-1zM216 166h3v1h-3zM220 166h1v1h-1zM167 167h1v2h-1zM215 167h2v1h-2zM218 167h1v1h-1zM220 167h2v1h-2zM216 168h1v1h-1zM220 168h1v1h-1zM165 169h3v1h-3zM216 169h5v1h-5zM164 170h5v1h-5zM218 170h1v1h-1zM164 171h1v1h-1zM166 171h1v2h-1zM168 171h1v1h-1zM163 172h2v1h-2zM168 172h2v1h-2zM164 173h1v1h-1zM168 173h1v1h-1zM164 174h5v1h-5zM166 175h1v1h-1z"/></g>
<g><text class="t" x="565.5" y="106" text-anchor="end" textLength="105" lengthAdjust="spacing">judy_map_kdcell</text><path fill="#eeee00" d="M589 98h1v1h-1zM587 99h5v1h-5zM587 100h1v1h-1zM591 100h1v1h-1zM573 101h33v1h-33zM587 102h1v1h-1zM591 102h1v1h-1zM587 103h5v1h-5zM589 104h1v1h-1zM113 233h1v1h-1zM111 234h5v1h-5zM111 235h1v1h-1zM115 235h1v1h-1zM110 236h2v1h-2zM113 236h1v1h-1zM115 236h2v1h-2zM111 237h1v1h-1zM113 237h3v1h-3zM111 238h5v1h-5zM112 239h2v1h-2zM116 239h1v1h-1zM111 240h1v2h-1zM117 240h2v1h-2zM119 241h1v1h-1zM110 242h1v3h-1zM120 242h1v1h-1zM323 242h1v1h-1zM121 243h1v1h-1zM321 243h5v1h-5zM122 244h1v1h-1zM321 244h1v1h-1zM325 244h1v1h-1zM109 245h1v2h-1zM123 245h1v1h-1zM320 245h2v1h-2zM323 245h1v1h-1zM325 245h2v1h-2zM124 246h1v1h-1zM321 246h2v1h-2zM324 246h2v1h-2zM108 247h1v2h-1zM125 247h1v1h-1zM320 247h6v1h-6zM126 248h2v1h-2zM319 248h1v1h-1zM323 248h1v1h-1zM326 248h1v1h-1zM107 249h1v2h-1zM128 249h1v1h-1zM131 249h1v1h-1zM183 249h1v1h-1zM235 249h1v1h-1zM270 249h1v1h-1zM317 249h2v1h-2zM327 249h1v1h-1zM479 249h1v1h-1zM129 250h5v1h-5zM181 250h5v1h-5zM233 250h5v1h-5zM268 250h5v1h-5zM316 250h1v1h-1zM328 250h1v1h-1zM477 250h5v1h-5zM106 251h1v3h-1zM129 251h2v1h-2zM133 251h1v1h-1zM181 251h1v1h-1zM185 251h1v1h-1zM233 251h1v1h-1zM237 251h1v1h-1zM268 251h1v1h-1zM272 251h1v1h-1zM314 251h2v1h-2zM329 251h1v1h-1zM477 251h1v1h-1zM481 251h1v1h-1zM128 252h2v1h-2zM131 252h1v1h-1zM133 252h2v1h-2zM180 252h4v1h-4zM185 252h2v1h-2zM232 252h7v1h-7zM267 252h7v1h-7zM313 252h1v1h-1zM330 252h1v1h-1zM471 252h13v1h-13zM129 253h1v1h-1zM132 253h2v1h-2zM180 253h2v1h-2zM184 253h2v1h-2zM230 253h4v1h-4zM237 253h2v1h-2zM267 253h2v1h-2zM272 253h2v1h-2zM312 253h1v1h-1zM331 253h2v1h-2zM410 253h1v1h-1zM454 253h17v1h-17zM477 253h1v1h-1zM481 253h1v1h-1zM484 253h9v1h-9zM105 254h1v2h-1zM129 254h7v1h-7zM178 254h2v1h-2zM181 254h6v1h-6zM218 254h1v1h-1zM227 254h3v1h-3zM233 254h5v1h-5zM239 254h2v1h-2zM265 254h2v1h-2zM268 254h5v1h-5zM274 254h3v1h-3zM310 254h2v1h-2zM333 254h1v1h-1zM408 254h5v1h-5zM436 254h18v1h-18zM477 254h5v1h-5zM493 254h8v1h-8zM131 255h1v1h-1zM136 255h2v1h-2zM176 255h2v1h-2zM183 255h1v1h-1zM187 255h2v1h-2zM216 255h5v1h-5zM224 255h3v1h-3zM235 255h1v1h-1zM241 255h2v1h-2zM263 255h2v1h-2zM270 255h1v1h-1zM277 255h2v1h-2zM305 255h1v1h-1zM309 255h1v1h-1zM334 255h1v1h-1zM408 255h1v1h-1zM412 255h1v1h-1zM419 255h17v1h-17zM479 255h1v1h-1zM501 255h9v1h-9zM619 255h1v1h-1zM104 256h1v2h-1zM138 256h2v1h-2zM174 256h2v1h-2zM189 256h1v1h-1zM216 256h1v1h-1zM220 256h4v1h-4zM243 256h3v1h-3zM261 256h2v1h-2zM279 256h3v1h-3zM288 256h1v1h-1zM303 256h6v1h-6zM335 256h1v1h-1zM403 256h16v1h-16zM510 256h9v1h-9zM617 256h5v1h-5zM140 257h2v1h-2zM166 257h1v1h-1zM172 257h2v1h-2zM190 257h2v1h-2zM215 257h7v1h-7zM246 257h2v1h-2zM253 257h1v1h-1zM259 257h2v1h-2zM282 257h3v1h-3zM286 257h5v1h-5zM303 257h1v1h-1zM306 257h2v1h-2zM336 257h1v1h-1zM389 257h14v1h-14zM408 257h1v1h-1zM412 257h1v1h-1zM519 257h9v1h-9zM549 257h1v1h-1zM617 257h1v1h-1zM621 257h1v1h-1zM103 258h1v3h-1zM142 258h2v1h-2zM148 258h1v1h-1zM164 258h5v1h-5zM170 258h2v1h-2zM192 258h2v1h-2zM214 258h3v1h-3zM220 258h1v1h-1zM248 258h2v1h-2zM251 258h5v1h-5zM257 258h2v1h-2zM285 258h2v1h-2zM290 258h1v1h-1zM297 258h9v1h-9zM307 258h2v1h-2zM337 258h1v1h-1zM340 258h1v1h-1zM375 258h14v1h-14zM408 258h5v1h-5zM528 258h8v1h-8zM547 258h5v1h-5zM602 258h18v1h-18zM621 258h2v1h-2zM144 259h7v1h-7zM164 259h1v1h-1zM168 259h2v1h-2zM194 259h1v1h-1zM211 259h3v1h-3zM216 259h5v1h-5zM250 259h2v1h-2zM255 259h2v1h-2zM285 259h12v1h-12zM303 259h1v1h-1zM307 259h1v1h-1zM338 259h5v1h-5zM361 259h14v1h-14zM410 259h1v1h-1zM536 259h9v1h-9zM547 259h1v1h-1zM551 259h1v1h-1zM567 259h35v1h-35zM617 259h1v1h-1zM621 259h1v1h-1zM146 260h2v1h-2zM150 260h1v1h-1zM157 260h13v1h-13zM195 260h2v1h-2zM200 260h1v1h-1zM208 260h3v1h-3zM218 260h1v1h-1zM250 260h7v1h-7zM286 260h1v1h-1zM290 260h1v1h-1zM303 260h5v1h-5zM338 260h2v1h-2zM342 260h1v1h-1zM347 260h14v1h-14zM545 260h22v1h-22zM617 260h5v1h-5zM102 261h1v2h-1zM145 261h2v1h-2zM148 261h9v1h-9zM164 261h1v1h-1zM168 261h1v1h-1zM197 261h6v1h-6zM205 261h3v1h-3zM251 261h1v1h-1zM255 261h1v1h-1zM286 261h5v1h-5zM305 261h1v1h-1zM337 261h2v1h-2zM340 261h7v1h-7zM547 261h1v1h-1zM551 261h1v1h-1zM619 261h1v1h-1zM146 262h1v1h-1zM150 262h1v1h-1zM164 262h5v1h-5zM198 262h2v1h-2zM202 262h3v1h-3zM251 262h5v1h-5zM288 262h1v1h-1zM338 262h1v1h-1zM342 262h1v1h-1zM547 262h5v1h-5zM101 263h1v2h-1zM146 263h5v1h-5zM166 263h1v1h-1zM197 263h2v1h-2zM200 263h4v1h-4zM253 263h1v1h-1zM338 263h5v1h-5zM549 263h1v1h-1zM148 264h1v1h-1zM198 264h1v1h-1zM202 264h1v1h-1zM340 264h1v1h-1zM100 265h1v2h-1zM198 265h5v1h-5zM200 266h1v1h-1zM99 267h1v3h-1zM98 270h1v2h-1zM96 272h2v1h-2zM94 273h5v1h-5zM94 274h1v1h-1zM96 274h1v2h-1zM98 274h1v1h-1zM93 275h2v1h-2zM98 275h2v1h-2zM94 276h2v1h-2zM98 276h1v1h-1zM94 277h5v1h-5zM94 278h1v1h-1zM96 278h1v1h-1zM93 279h1v1h-1zM92 280h1v1h-1zM91 281h1v2h-1zM90 283h1v1h-1zM89 284h1v1h-1zM88 285h1v2h-1zM87 287h1v1h-1zM86 288h1v1h-1zM85 289h1v2h-1zM84 291h1v1h-1zM83 292h1v1h-1zM82 293h1v2h-1zM81 295h1v1h-1zM78 296h1v1h-1zM80 296h1v1h-1zM76 297h5v1h-5zM76 298h1v1h-1zM79 298h2v1h-2zM75 299h2v1h-2zM78 299h1v1h-1zM80 299h2v1h-2zM76 300h1v1h-1zM80 300h1v1h-1zM76 301h5v1h-5zM78 302h1v1h-1z"/></g>
<path fill="#000" d="M61 13h559v1h-559zM61 14h1v47h-1zM131 14h1v4h-1zM200 14h1v4h-1zM270 14h1v4h-1zM340 14h1v4h-1zM410 14h1v4h-1zM479 14h1v4h-1zM549 14h1v4h-1zM619 14h1v47h-1zM61 61h5v1h-5zM615 61h5v1h-5zM61 62h1v46h-1zM619 62h1v46h-1zM61 108h5v1h-5zM615 108h5v1h-5zM61 109h1v47h-1zM619 109h1v47h-1zM61 156h5v1h-5zM615 156h5v1h-5zM61 157h1v47h-1zM619 157h1v47h-1zM61 204h5v1h-5zM615 204h5v1h-5zM61 205h1v47h-1zM619 205h1v47h-1zM61 252h5v1h-5zM615 252h5v1h-5zM61 253h1v46h-1zM619 253h1v46h-1zM61 299h5v1h-5zM615 299h5v1h-5zM61 300h1v47h-1zM619 300h1v47h-1zM61 347h5v1h-5zM615 347h5v1h-5zM61 348h1v47h-1zM619 348h1v47h-1zM61 395h5v1h-5zM615 395h5v1h-5zM61 396h1v44h-1zM619 396h1v44h-1zM131 436h1v4h-1zM200 436h1v4h-1zM270 436h1v4h-1zM340 436h1v4h-1zM410 436h1v4h-1zM479 436h1v4h-1zM549 436h1v4h-1zM61 440h559v1h-559z"/>
<text class="t" x="53.5" y="18" text-anchor="end" textLength="21" lengthAdjust="spacing">180</text>
<text class="t" x="53.5" y="66" text-anchor="end" textLength="21" lengthAdjust="spacing">160</text>
<text class="t" x="53.5" y="113" text-anchor="end" textLength="21" lengthAdjust="spacing">140</text>
<text class="t" x="53.5" y="161" text-anchor="end" textLength="21" lengthAdjust="spacing">120</text>
<text class="t" x="53.5" y="209" text-anchor="end" textLength="21" lengthAdjust="spacing">100</text>
<text class="t" x="53.5" y="257" text-anchor="end" textLength="14" lengthAdjust="spacing">80</text>
<text class="t" x="53.5" y="304" text-anchor="end" textLength="14" lengthAdjust="spacing">60</text>
<text class="t" x="53.5" y="352" text-anchor="end" textLength="14" lengthAdjust="spacing">40</text>
<text class="t" x="53.5" y="400" text-anchor="end" textLength="14" lengthAdjust="spacing">20</text>
<text class="t" x="64" y="458" text-anchor="middle" textLength="7" lengthAdjust="spacing">0</text>
<text class="t" x="134.5" y="458" text-anchor="middle" textLength="42" lengthAdjust="spacing">200000</text>
<text class="t" x="203.5" y="458" text-anchor="middle" textLength="42" lengthAdjust="spacing">400000</text>
<text class="t" x="273.5" y="458" text-anchor="middle" textLength="42" lengthAdjust="spacing">600000</text>
<text class="t" x="343.5" y="458" text-anchor="middle" textLength="42" lengthAdjust="spacing">800000</text>
<text class="t" x="413" y="458" text-anchor="middle" textLength="35" lengthAdjust="spacing">1e+06</text>
<text class="t" x="482" y="458" text-anchor="middle" textLength="49" lengthAdjust="spacing">1.2e+06</text>
<text class="t" x="552" y="458" text-anchor="middle" textLength="49" lengthAdjust="spacing">1.4e+06</text>
<text class="t" x="622" y="458" text-anchor="middle" textLength="49" lengthAdjust="spacing">1.6e+06</text>
<text class="t" x="340" y="476.5" text-anchor="middle" textLength="273" lengthAdjust="spacing">Number of elements in associative array</text>
<text class="t" transform="translate(16.6,229) rotate(-90)" text-anchor="middle" textLength="336" lengthAdjust="spacing">Execution time of one operation (in nanoseconds)</text>
</svg>
</body></html>
